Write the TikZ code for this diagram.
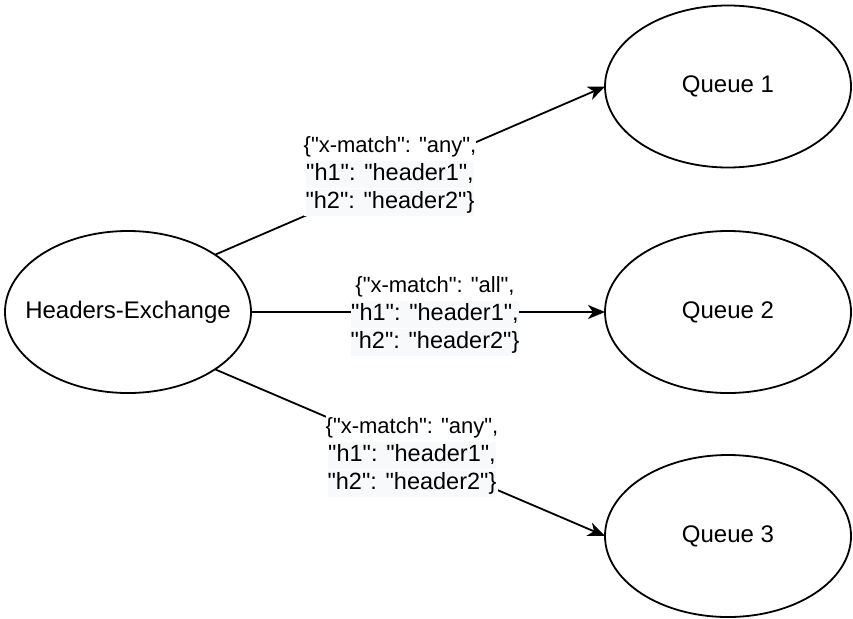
\documentclass[tikz,border=0pt]{standalone}
\usepackage{fontspec}
\setmainfont{Liberation Sans}[Ligatures=TeXOff]
\usetikzlibrary{arrows.meta,shapes.geometric}
\definecolor{lblbg}{RGB}{248,249,250}
% header lines of a binding label: slightly larger type on a light background
\newcommand{\hlrow}[1]{{\fontsize{23.5}{27}\selectfont\setlength{\fboxsep}{0pt}\colorbox{lblbg}{\strut#1}}}
\begin{document}
\begin{tikzpicture}[x=1pt,y=-1pt,
  state/.style={draw,ellipse,line width=1.8pt,inner sep=0pt,outer sep=0pt,
    minimum width=246pt,minimum height=162pt,font=\fontsize{24}{28}\selectfont},
  link/.style={line width=1.8pt,-{Stealth[length=17pt,width=14pt,inset=5pt]}},
  lbl/.style={fill=white,inner sep=0pt,align=center,font=\fontsize{22}{26.5}\selectfont}]
\useasboundingbox (0,0) rectangle (853,618);

% exchange and queues (zero-width text keeps the ellipse at its set size)
\node[state] (he) at (128,312) {\makebox[0pt]{Headers-Exchange}};
\node[state] (q1) at (728,86.5) {\makebox[0pt]{Queue 1}};
\node[state] (q2) at (728,312) {\makebox[0pt]{Queue 2}};
\node[state] (q3) at (728,536) {\makebox[0pt]{Queue 3}};

% bindings
\draw[link] (he.north east) -- (q1.west);
\draw[link] (he.east) -- (q2.west);
\draw[link] (he.south east) -- (q3.west);

% binding arguments
\node[lbl] (l1) at (390,175) {\strut\{"x-match": "any",\\ \hlrow{"h1": "header1",}\\ \hlrow{"h2": "header2"\}}};
\node[lbl] (l2) at (435,315) {\strut\{"x-match": "all",\\ \hlrow{"h1": "header1",}\\ \hlrow{"h2": "header2"\}}};
\node[lbl] (l3) at (412,456) {\strut\{"x-match": "any",\\ \hlrow{"h1": "header1",}\\ \hlrow{"h2": "header2"\}}};
\end{tikzpicture}
\end{document}
